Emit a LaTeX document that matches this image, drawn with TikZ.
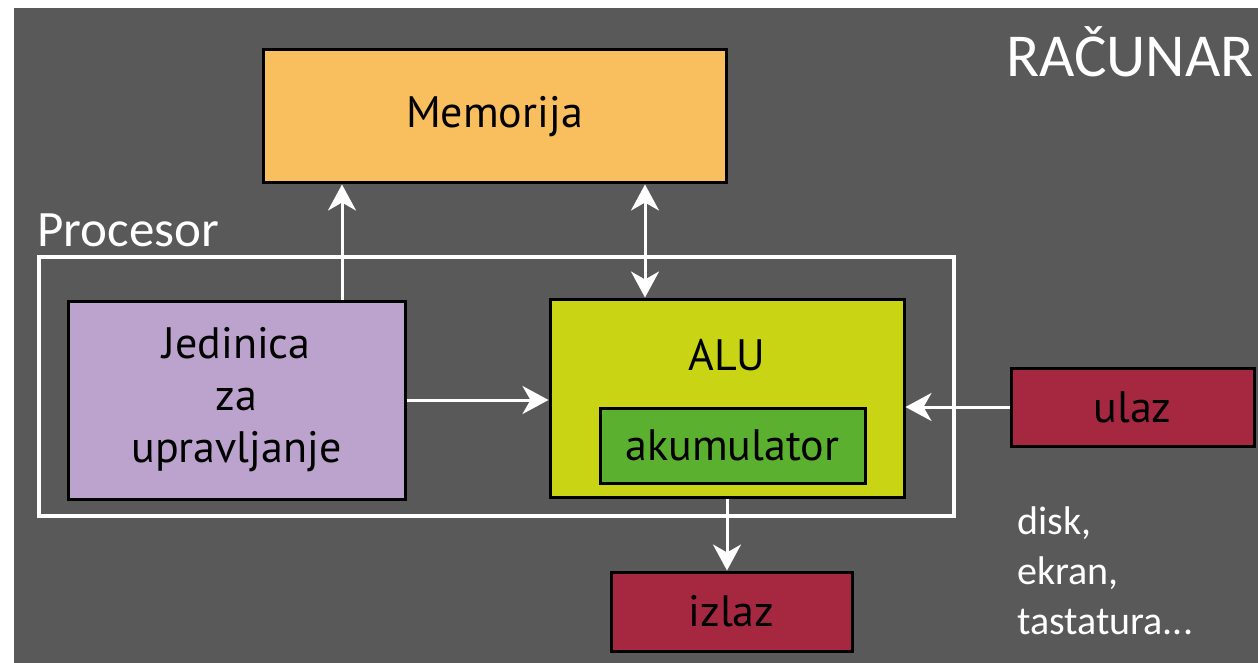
\documentclass[tikz,border=0pt]{standalone}
\usepackage{fontspec}
\setmainfont{PT Sans}
\newfontfamily\calfont{Carlito}
\usepackage{tikz}
\usetikzlibrary{positioning,calc,arrows.meta}
\definecolor{fond}{HTML}{595959}
\definecolor{orange}{HTML}{F9BE5E}
\definecolor{lila}{HTML}{BBA3CD}
\definecolor{lime}{HTML}{C8D414}
\definecolor{vert}{HTML}{5BB030}
\definecolor{bordeaux}{HTML}{A62840}
\tikzset{
	bloc/.style={draw=black,line width=3pt,inner sep=0pt,font=\fontsize{44}{52}\selectfont,align=center},
	pointe/.tip={Stealth[length=26pt,width=28pt,inset=8pt]},
	fl/.style={white,line width=3pt,-pointe},
	blanc/.style={white,inner sep=0pt,font=\calfont}
}

\begin{document}
\begin{tikzpicture}[x=1pt,y=-1pt]
	
	\useasboundingbox (0,0) rectangle (1258,663);
	\fill[fond] (14,8) rectangle (1258,663);
	
	%Blocs
	\node[bloc,fill=orange,minimum width=463pt,minimum height=133pt] (mem) at (494.5,116.5) {Memorija};
	\node[bloc,fill=lila,minimum width=337pt,minimum height=198pt] (jed) at (236.5,400) {Jedinica\\za\\upravljanje};
	\node[bloc,fill=lime,minimum width=354pt,minimum height=198pt] (alu) at (727,398) {};
	\node[bloc,draw=none] (alut) at ($(alu.north)+(0,58)$) {ALU};
	\node[bloc,fill=vert,minimum width=265pt,minimum height=75pt] (aku) at (732.5,445.5) {akumulator};
	\node[bloc,fill=bordeaux,minimum width=243pt,minimum height=78pt] (ulz) at (1132.5,407) {ulaz};
	\node[bloc,fill=bordeaux,minimum width=241pt,minimum height=79pt] (izl) at (731.5,611.5) {izlaz};
	
	%Procesor
	\node[draw=white,line width=4pt,minimum width=915pt,minimum height=259pt] (proc) at (496.5,386.5) {};
	\node[blanc,anchor=base west,font=\calfont\fontsize{51}{60}\selectfont] (proct) at (37,246) {Procesor};
	
	%Racunar
	\node[blanc,anchor=base west,font=\calfont\fontsize{61}{70}\selectfont] (rac) at (1006,77) {RAČUNAR};
	\node[blanc,anchor=base west,align=left,font=\calfont\fontsize{40}{50}\selectfont] (per) at (1017,634) {disk,\\ekran,\\tastatura...};
	
	%Veze
	\coordinate (c1) at (342,0);
	\coordinate (c2) at (645,0);
	\draw[fl] (jed.north -| c1) -- (mem.south -| c1);
	\draw[fl,pointe-pointe] (mem.south -| c2) -- (alu.north -| c2);
	\draw[fl] (jed.east) -- (jed.east -| alu.west);
	\draw[fl] (ulz.west) -- (ulz.west -| alu.east);
	\draw[fl] (alu.south) -- (alu.south |- izl.north);
	
\end{tikzpicture}
\end{document}
